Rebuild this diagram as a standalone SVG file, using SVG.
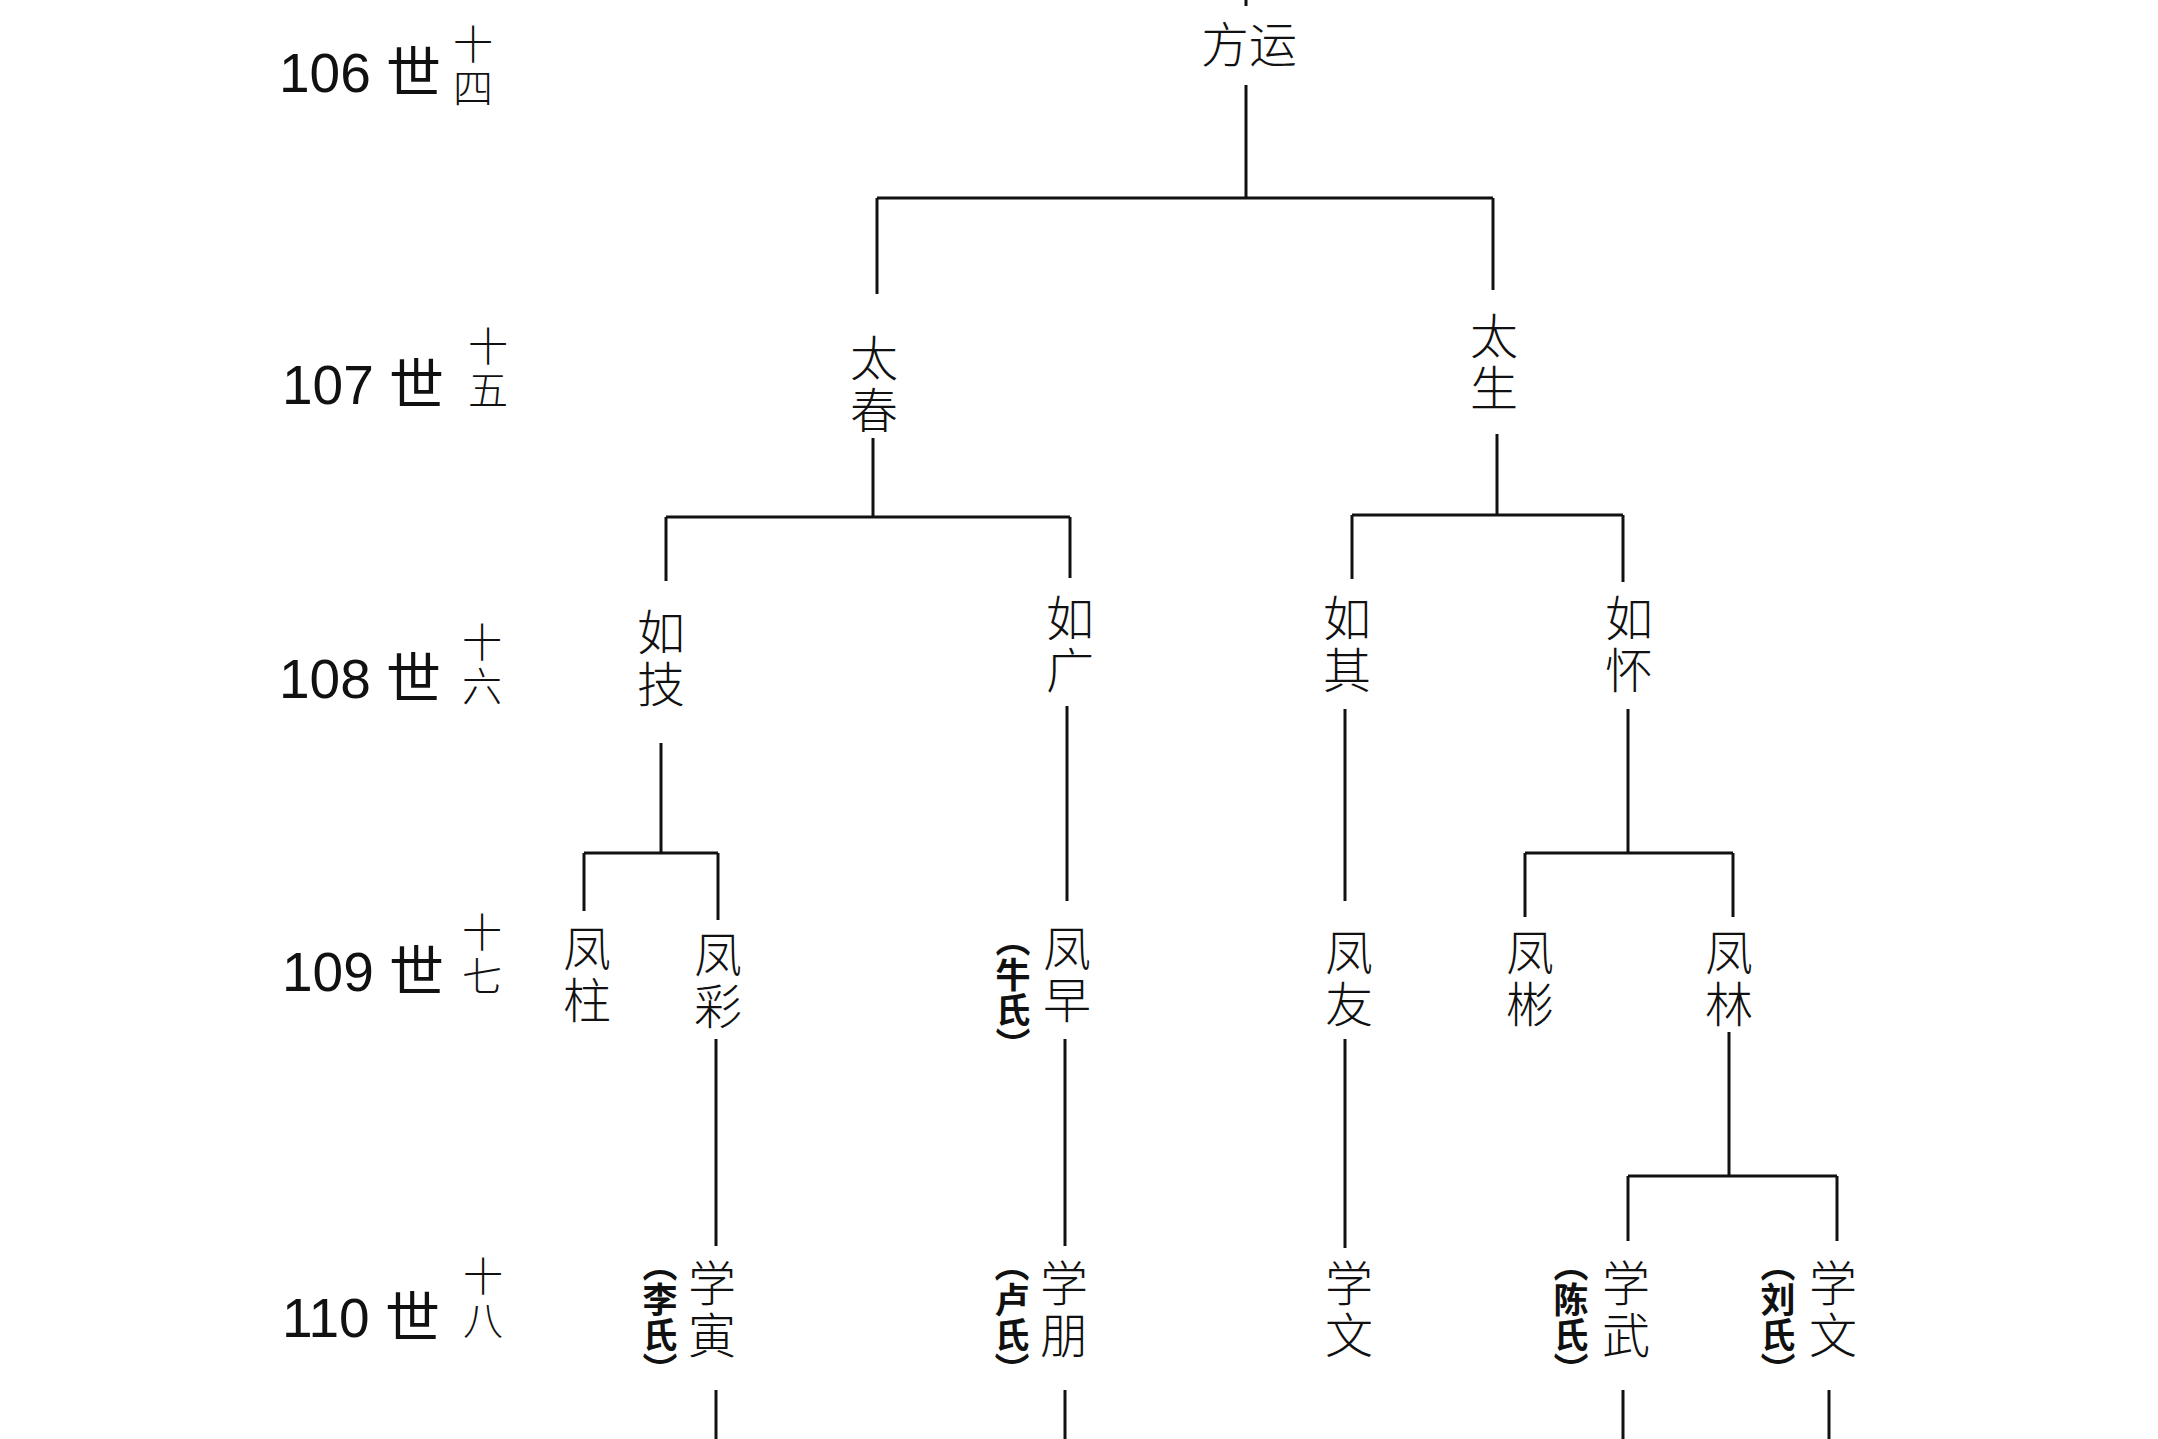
<svg xmlns="http://www.w3.org/2000/svg" width="2158" height="1439" viewBox="0 0 2158 1439">
<style>
.g{font-family:"Liberation Sans","Noto Sans CJK SC",sans-serif;font-size:55px;fill:#111}
.s{font-family:"Noto Sans CJK SC",sans-serif;font-size:40px;fill:#111;writing-mode:vertical-rl;font-weight:300;letter-spacing:4px}
.n{font-family:"Noto Sans CJK SC",sans-serif;font-size:48px;fill:#111;writing-mode:vertical-rl;letter-spacing:4px;font-weight:300}
.w{font-family:"Noto Sans CJK SC",sans-serif;font-size:35px;fill:#111;writing-mode:vertical-rl;font-weight:bold}
.c line{stroke:#111;stroke-width:3}
</style>
<rect width="2158" height="1439" fill="#fff"/>
<g id="labels">
<text class="g" x="279" y="92">106 世</text><text class="s" x="473" y="24">十四</text>
<text class="g" x="282" y="404">107 世</text><text class="s" x="488" y="326">十五</text>
<text class="g" x="279" y="698">108 世</text><text class="s" x="482" y="622">十六</text>
<text class="g" x="282" y="991">109 世</text><text class="s" x="482" y="912">十七</text>
<text class="g" x="282" y="1337">110 世</text><text class="s" x="483" y="1256">十八</text>
</g>
<g id="n-fangyun"><text x="1249" y="62" font-family="Noto Sans CJK SC,sans-serif" font-size="48" font-weight="300" text-anchor="middle" fill="#111">方运</text></g>
<g id="n-taichun"><text class="n" x="874" y="334">太春</text></g>
<g id="n-taisheng"><text class="n" x="1494" y="312">太生</text></g>
<g id="n-ruji"><text class="n" x="661" y="608">如技</text></g>
<g id="n-ruguang"><text class="n" x="1070" y="594">如广</text></g>
<g id="n-ruqi"><text class="n" x="1347" y="594">如其</text></g>
<g id="n-ruhuai"><text class="n" x="1629" y="594">如怀</text></g>
<g id="n-fengzhu"><text class="n" x="587" y="924">凤柱</text></g>
<g id="n-fengcai"><text class="n" x="718" y="930">凤彩</text></g>
<g id="n-fengzao"><text class="n" x="1067" y="924">凤早</text><text class="w" x="1013" y="922">（牛氏）</text></g>
<g id="n-fengyou"><text class="n" x="1349" y="928">凤友</text></g>
<g id="n-fengbin"><text class="n" x="1530" y="928">凤彬</text></g>
<g id="n-fenglin"><text class="n" x="1729" y="928">凤林</text></g>
<g id="n-xueyin"><text class="n" x="712" y="1259">学寅</text><text class="w" x="660" y="1247">（李氏）</text></g>
<g id="n-xuepeng"><text class="n" x="1064" y="1259">学朋</text><text class="w" x="1012" y="1247">（卢氏）</text></g>
<g id="n-xuewen1"><text class="n" x="1349" y="1259">学文</text></g>
<g id="n-xuewu"><text class="n" x="1626" y="1259">学武</text><text class="w" x="1571" y="1247">（陈氏）</text></g>
<g id="n-xuewen2"><text class="n" x="1833" y="1259">学文</text><text class="w" x="1778" y="1247">（刘氏）</text></g>
<g id="connectors" class="c">
<line x1="1246" y1="0" x2="1246" y2="6"/>
<line x1="1246" y1="85" x2="1246" y2="198"/>
<line x1="877" y1="198" x2="1493" y2="198"/>
<line x1="877" y1="198" x2="877" y2="294"/>
<line x1="1493" y1="198" x2="1493" y2="290"/>
<line x1="873" y1="438" x2="873" y2="517"/>
<line x1="666" y1="517" x2="1070" y2="517"/>
<line x1="666" y1="517" x2="666" y2="581"/>
<line x1="1070" y1="517" x2="1070" y2="578"/>
<line x1="1497" y1="434" x2="1497" y2="515"/>
<line x1="1352" y1="515" x2="1623" y2="515"/>
<line x1="1352" y1="515" x2="1352" y2="579"/>
<line x1="1623" y1="515" x2="1623" y2="582"/>
<line x1="661" y1="743" x2="661" y2="853"/>
<line x1="584" y1="853" x2="718" y2="853"/>
<line x1="584" y1="853" x2="584" y2="911"/>
<line x1="718" y1="853" x2="718" y2="920"/>
<line x1="716" y1="1039" x2="716" y2="1246"/>
<line x1="716" y1="1390" x2="716" y2="1439"/>
<line x1="1067" y1="706" x2="1067" y2="901"/>
<line x1="1065" y1="1039" x2="1065" y2="1246"/>
<line x1="1065" y1="1390" x2="1065" y2="1439"/>
<line x1="1345" y1="709" x2="1345" y2="901"/>
<line x1="1345" y1="1039" x2="1345" y2="1248"/>
<line x1="1628" y1="709" x2="1628" y2="853"/>
<line x1="1525" y1="853" x2="1733" y2="853"/>
<line x1="1525" y1="853" x2="1525" y2="917"/>
<line x1="1733" y1="853" x2="1733" y2="917"/>
<line x1="1729" y1="1032" x2="1729" y2="1176"/>
<line x1="1628" y1="1176" x2="1837" y2="1176"/>
<line x1="1628" y1="1176" x2="1628" y2="1241"/>
<line x1="1837" y1="1176" x2="1837" y2="1241"/>
<line x1="1623" y1="1390" x2="1623" y2="1439"/>
<line x1="1829" y1="1390" x2="1829" y2="1439"/>
</g>
</svg>
